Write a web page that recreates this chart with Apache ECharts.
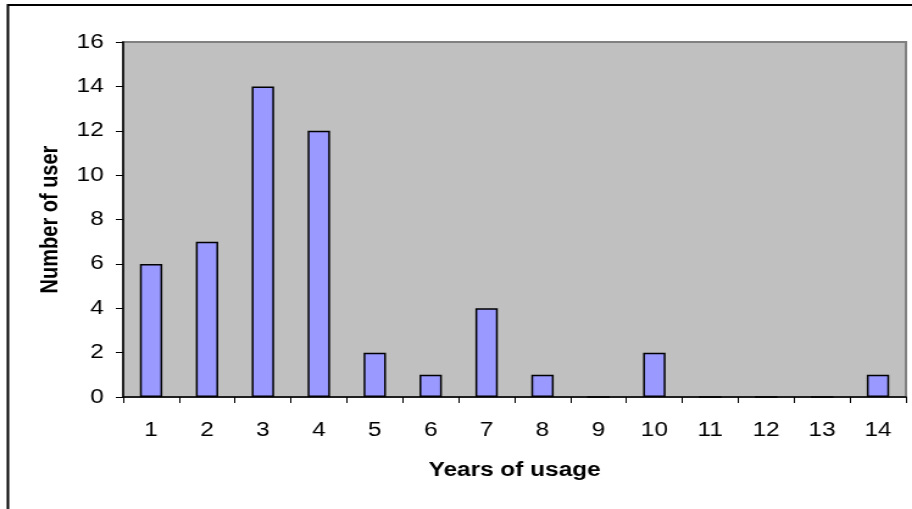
<!DOCTYPE html>
<html>
<head>
<meta charset="utf-8">
<script src="https://cdn.jsdelivr.net/npm/echarts@6/dist/echarts.min.js"></script>
<style>
  html, body { margin: 0; padding: 0; background: #fff; overflow: hidden; }
  #wrap { width: 912px; height: 509px; overflow: hidden; }
  /* the chart is laid out narrower and widened with a horizontal stretch */
  #chart { width: 748px; height: 509px; transform: scaleX(1.2193); transform-origin: 0 0; }
</style>
</head>
<body>
<div id="wrap"><div id="chart"></div></div>
<script>
// Years of usage per user
const years = ['1', '2', '3', '4', '5', '6', '7', '8', '9', '10', '11', '12', '13', '14'];
const users = [6, 7, 14, 12, 2, 1, 4, 1, 0, 2, 0, 0, 0, 1];
const yTicks = { min: 0, max: 16, interval: 2 };

const font = 'Liberation Sans, Arial, sans-serif';
const chart = echarts.init(document.getElementById('chart'), null, { renderer: 'canvas' });

chart.setOption({
  animation: false,
  backgroundColor: '#ffffff',
  graphic: [{
    type: 'rect',
    shape: { x: 6.5, y: 5, width: 1000, height: 600 },
    style: { fill: 'none', stroke: '#000', lineWidth: 2 },
    silent: true
  }],
  grid: {
    left: 101, right: 5, top: 42, bottom: 112,
    show: true,
    backgroundColor: '#c0c0c0',
    borderColor: '#808080',
    borderWidth: 2
  },
  xAxis: {
    type: 'category',
    data: years,
    name: 'Years of usage',
    nameLocation: 'middle',
    nameGap: 63,
    nameTextStyle: { fontFamily: font, fontSize: 20, fontWeight: 'bold', color: '#000' },
    axisLine: { lineStyle: { color: '#000', width: 1.5 } },
    axisTick: { show: true, length: 6, lineStyle: { color: '#000' } },
    axisLabel: { interval: 0, margin: 23, fontFamily: font, fontSize: 20, color: '#000' },
    splitLine: { show: false }
  },
  yAxis: {
    type: 'value',
    min: yTicks.min, max: yTicks.max, interval: yTicks.interval,
    name: 'Number of user',
    nameLocation: 'middle',
    nameGap: 45,
    nameTextStyle: { fontFamily: font, fontSize: 20, fontWeight: 'bold', color: '#000' },
    axisLine: { show: true, lineStyle: { color: '#000', width: 1.5 } },
    axisTick: { show: true, length: 6, lineStyle: { color: '#000' } },
    axisLabel: { margin: 16, fontFamily: font, fontSize: 20, color: '#000' },
    splitLine: { show: false }
  },
  series: [{
    type: 'bar',
    data: users,
    barCategoryGap: '60%',
    itemStyle: { color: '#9999ff', borderColor: '#000', borderWidth: 1.5 }
  }]
});
</script>
</body>
</html>
